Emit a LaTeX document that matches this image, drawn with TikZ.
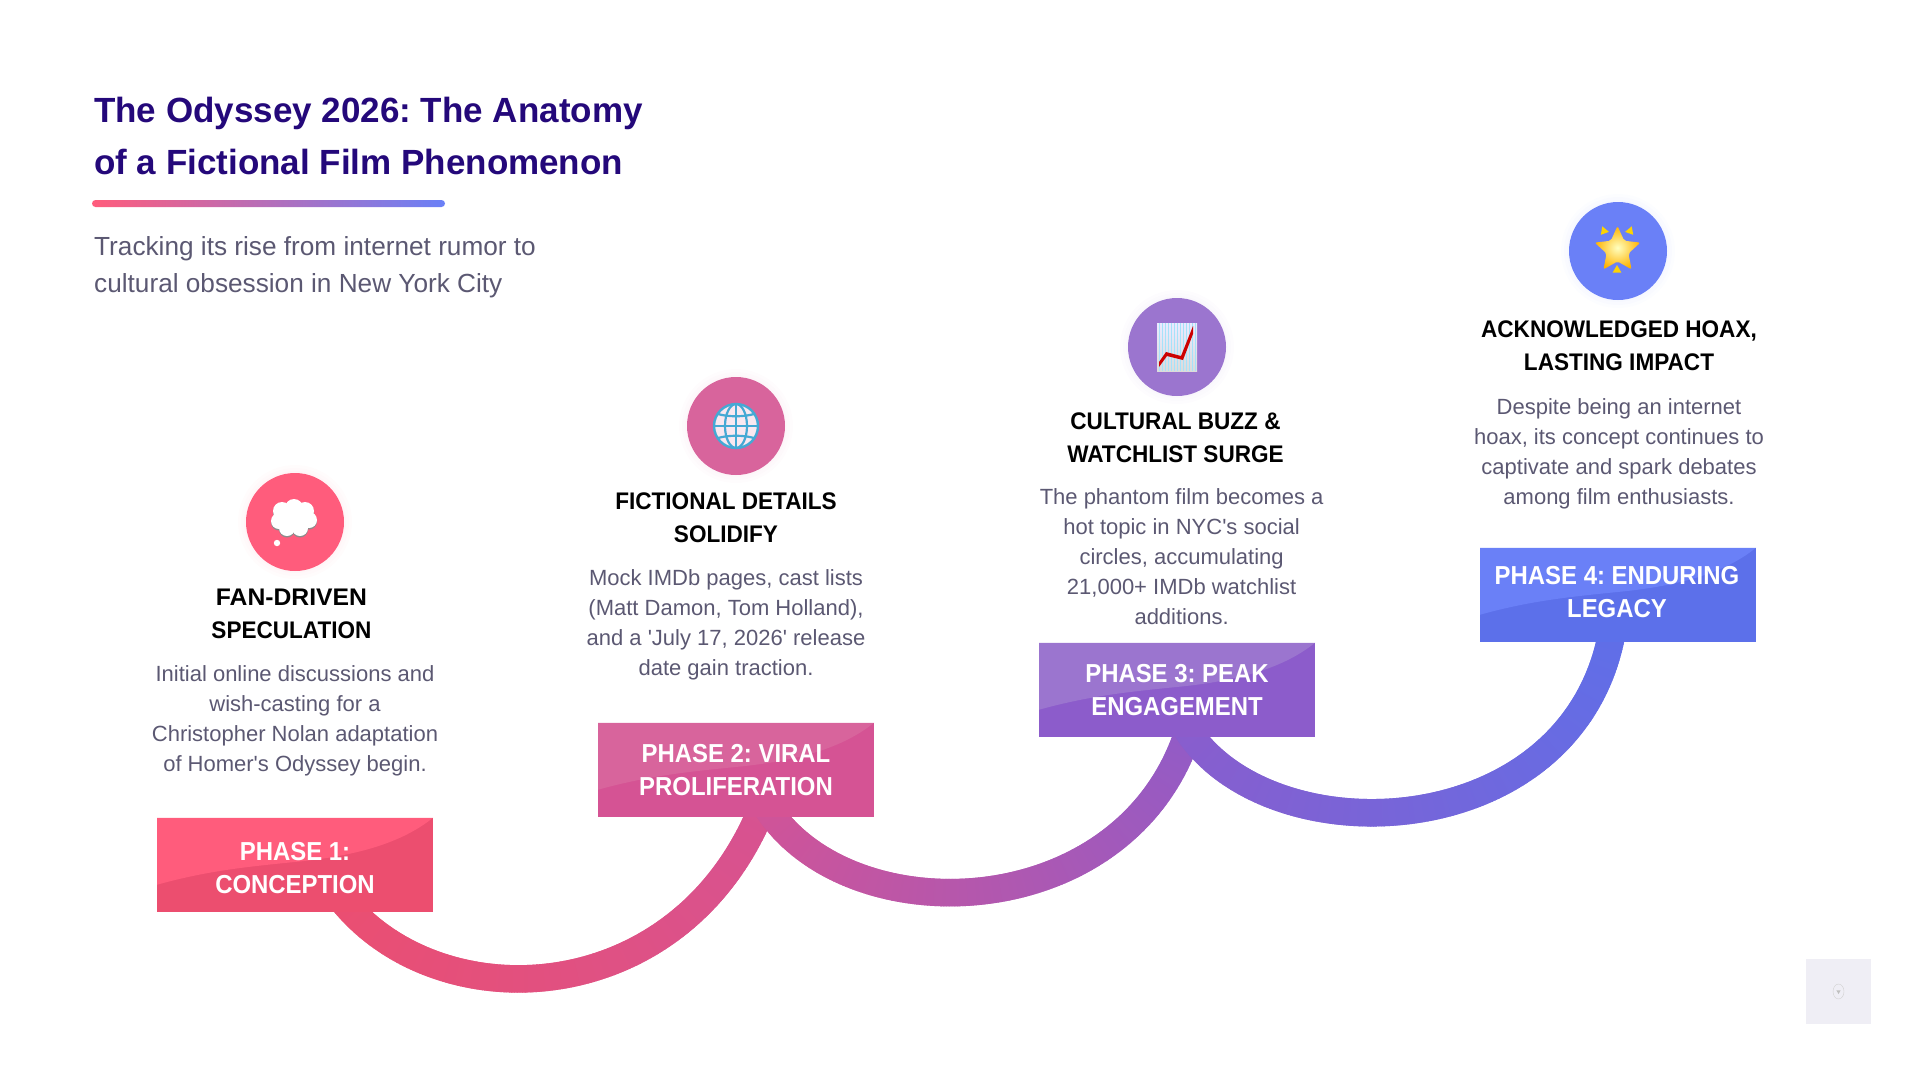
\documentclass[tikz,border=0pt]{standalone}
\usepackage{fontspec}
\setmainfont[Ligatures=TeXOff]{Liberation Sans}
\newfontfamily\headfont[FakeStretch=0.94,Ligatures=TeXOff]{Liberation Sans}
\newfontfamily\headwide[FakeStretch=1.03,Ligatures=TeXOff]{Liberation Sans}
\newfontfamily\phasefont[FakeStretch=0.92,Ligatures=TeXOff]{Liberation Sans}
\usetikzlibrary{backgrounds}
\usetikzlibrary{decorations.markings}
\usetikzlibrary{shapes.geometric}
\usetikzlibrary{calc}
\definecolor{titleink}{HTML}{24087A}
\definecolor{greyink}{HTML}{5B5872}
\definecolor{coralA}{HTML}{FF5C7C}
\definecolor{coralB}{HTML}{EC4E6F}
\definecolor{rosyA}{HTML}{D8649C}
\definecolor{rosyB}{HTML}{D55394}
\definecolor{violetA}{HTML}{9B75CF}
\definecolor{violetB}{HTML}{8C5CCB}
\definecolor{azureA}{HTML}{6A80F7}
\definecolor{azureB}{HTML}{5C70EA}
\definecolor{globeink}{HTML}{45A9D4}
\definecolor{cornerfill}{HTML}{EFEEF5}
\tikzstyle{titletext}=[anchor=west,text=titleink,font=\fontsize{35}{52.6}\selectfont\bfseries,align=left,inner sep=0pt]
\tikzstyle{subtext}=[anchor=west,text=greyink,font=\fontsize{26.2}{36.7}\selectfont,align=left,inner sep=0pt]
\tikzstyle{iconcircle}=[circle,minimum size=98pt,inner sep=0pt]
\tikzstyle{headtext}=[text=black,font=\headfont\fontsize{24}{33}\selectfont\bfseries,align=center,inner sep=0pt]
\tikzstyle{bodytext}=[text=greyink,font=\fontsize{22}{30}\selectfont,align=center,inner sep=0pt]
\tikzstyle{phasebox}=[minimum width=276pt,minimum height=94.5pt,inner sep=0pt]
\tikzstyle{phasetext}=[text=white,align=center,inner sep=0pt,font=\phasefont\fontsize{26}{33}\selectfont\bfseries]
\tikzset{
  glossy/.style={path picture={
    \fill[#1] ($(path picture bounding box.north west)+(0,67)$)
      .. controls +(50,-14) and +(-50,5) .. ($(path picture bounding box.north west)+(140,44)$)
      .. controls +(60,-6) and +(-31,25) .. (path picture bounding box.north east)
      -- (path picture bounding box.north west) -- cycle;}},
  band/.style 2 args={decorate,decoration={markings,
    mark=between positions 0 and 1 step 1.5pt with {
      \pgfmathsetmacro{\mixpct}{100-100*(\pgfkeysvalueof{/pgf/decoration/mark info/distance from start}/\pgfdecoratedpathlength)}
      \fill[color=#1!\mixpct!#2] (-1.3,-13.75) rectangle (1.3,13.75);}}}
}
\frenchspacing
\begin{document}
\begin{tikzpicture}[x=1pt,y=-1pt]
    \useasboundingbox (0,0) rectangle (1920,1080);

    % header
    \node[titletext] (T1) at (94,136) {The Odyssey 2026: The Anatomy\\of a Fictional Film Phenomenon};
    \shade[rounded corners=3.5pt,left color=coralA,right color=azureA] (92,200) rectangle (445,207);
    \node[subtext] (S1) at (94,267) {Tracking its rise from internet rumor to\\cultural obsession in New York City};

    % phase boxes, on a rising line
    \foreach \pos/\base/\shine/\name in {{(295,865)/coralB/coralA/P1}, {(736,770)/rosyB/rosyA/P2}, {(1177,690)/violetB/violetA/P3}, {(1618,595)/azureB/azureA/P4}}
            \node[phasebox,fill=\base,glossy=\shine] (\name) at \pos {};

    \foreach \pos/\name/\txt in {
        {(295,868)/L1/{PHASE 1:\\CONCEPTION}},
        {(736,770)/L2/{PHASE 2: VIRAL\\PROLIFERATION}},
        {(1177,690)/L3/{PHASE 3: PEAK\\ENGAGEMENT}},
        {(1617,592)/L4/{PHASE 4: ENDURING\\LEGACY}}}
            \node[phasetext] (\name) at \pos {\txt};

    % connectors go under the boxes
    \begin{scope}[on background layer]
    \foreach \source/\dest/\colA/\colB/\sx/\ex/\cax/\cay/\cbx/\cby in {
        P1/P2/coralB/rosyB/25/39/80/165/-72/260,
        P2/P3/rosyB/violetB/14/21/50/175/-38/255,
        P3/P4/violetB/azureB/-7/-2/43/177/-10/272}
        \path[band={\colA}{\colB}] ([xshift=\sx]\source.center) .. controls +(\cax,\cay) and +(\cbx,\cby) .. ([xshift=\ex]\dest.center);
    \end{scope}

    % circles with soft glow
    \foreach \pos/\col/\name in {{(295,522)/coralA/C1}, {(736,426)/rosyA/C2}, {(1177,347)/violetA/C3}, {(1618,251)/azureA/C4}}
    {
        \foreach \r in {51,54,57}
            \fill[\col,opacity=.02] \pos circle (\r);
        \node[iconcircle,fill=\col] (\name) at \pos {};
    }

    % headings
    \foreach \pos/\name/\txt in {
        {(291.5,614)/H1/{\headwide FAN-DRIVEN\\SPECULATION}},
        {(726,517.5)/H2/{FICTIONAL DETAILS\\SOLIDIFY}},
        {(1175.5,438)/H3/{CULTURAL BUZZ \&\\WATCHLIST SURGE}},
        {(1619,346)/H4/{ACKNOWLEDGED HOAX,\\LASTING IMPACT}}}
            \node[headtext] (\name) at \pos {\txt};

    % descriptions
    \foreach \pos/\name/\txt in {
        {(295,720.5)/B1/{Initial online discussions and\\wish-casting for a\\Christopher Nolan adaptation\\of Homer's Odyssey begin.}},
        {(726,624.5)/B2/{Mock IMDb pages, cast lists\\(Matt Damon, Tom Holland),\\and a 'July 17, 2026' release\\date gain traction.}},
        {(1181.6,556.5)/B3/{The phantom film becomes a\\hot topic in NYC's social\\circles, accumulating\\21,000+ IMDb watchlist\\additions.}},
        {(1619,453.5)/B4/{Despite being an internet\\hoax, its concept continues to\\captivate and spark debates\\among film enthusiasts.}}}
            \node[bodytext] (\name) at \pos {\txt};

    % cloud icon
    \begin{scope}[shift={($(C1)+(-1,-3)$)}]
        \foreach \dx/\dy/\r in {-12/-8/9, 0/-11/9, 11/-8/9, 15/1/8, -15/2/8, -7/9/8, 6/9/8}
            \fill[black!45] (\dx,\dy+1.5) circle (\r);
        \foreach \dx/\dy/\r in {-12/-8/9, 0/-11/9, 11/-8/9, 15/1/8, -15/2/8, -7/9/8, 6/9/8, 0/0/12}
            \fill[white] (\dx,\dy) circle (\r);
        \fill[white] (-17,24) circle (3.2);
    \end{scope}

    % globe icon
    \begin{scope}[shift={(C2)}]
        \fill[white!85!rosyA] (0,0) circle (22);
        \draw[globeink,line width=2.4pt] (0,0) circle (22);
        \draw[globeink,line width=2.2pt] (0,0) ellipse (11 and 22);
        \draw[globeink,line width=2.2pt] (0,-22) -- (0,22) (-22,0) -- (22,0);
        \draw[globeink,line width=2.2pt] (-18,-12) .. controls (-8,-9) and (8,-9) .. (18,-12);
        \draw[globeink,line width=2.2pt] (-18,12) .. controls (-8,9) and (8,9) .. (18,12);
    \end{scope}

    % chart icon
    \begin{scope}[shift={(C3)}]
        \shade[top color=blue!8!white,bottom color=black!14] (-20,-24) rectangle (20,24);
        \draw[cyan!35,line width=.2pt,step=3] (-20,-24) grid (20,24);
        \fill[red!80!black] (-18,15) -- (-11,5) -- (4,9) -- (16,-21) -- (16,-13) -- (6,13) -- (-10,9) -- (-18,20) -- cycle;
    \end{scope}

    % star icon
    \node[star,star points=5,star point ratio=2.1,minimum size=48pt,inner sep=0pt,inner color=yellow!25!white,outer color=orange!60!yellow,rounded corners=2pt] (Star) at ($(C4)+(-.5,-1)$) {};
    \foreach \ax/\ay/\rot/\p in {-14/-20/20/A1, 12/-20/-20/A2, -1/19/0/A3}
        \node[regular polygon,regular polygon sides=3,fill=yellow!70!orange,minimum size=10pt,inner sep=0pt,rotate=\rot] (\p) at ($(C4)+(\ax,\ay)$) {};

    % watermark corner
    \node[rectangle,fill=cornerfill,minimum size=65pt,inner sep=0pt] (W1) at (1838.5,991.5) {};
    \node[ellipse,draw=black!18,minimum width=11pt,minimum height=15pt,inner sep=0pt] (W2) at (W1) {};
    \node[regular polygon,regular polygon sides=3,rotate=180,fill=black!25,minimum size=5pt,inner sep=0pt] (W3) at (W1) {};
   \end{tikzpicture}
\end{document}
